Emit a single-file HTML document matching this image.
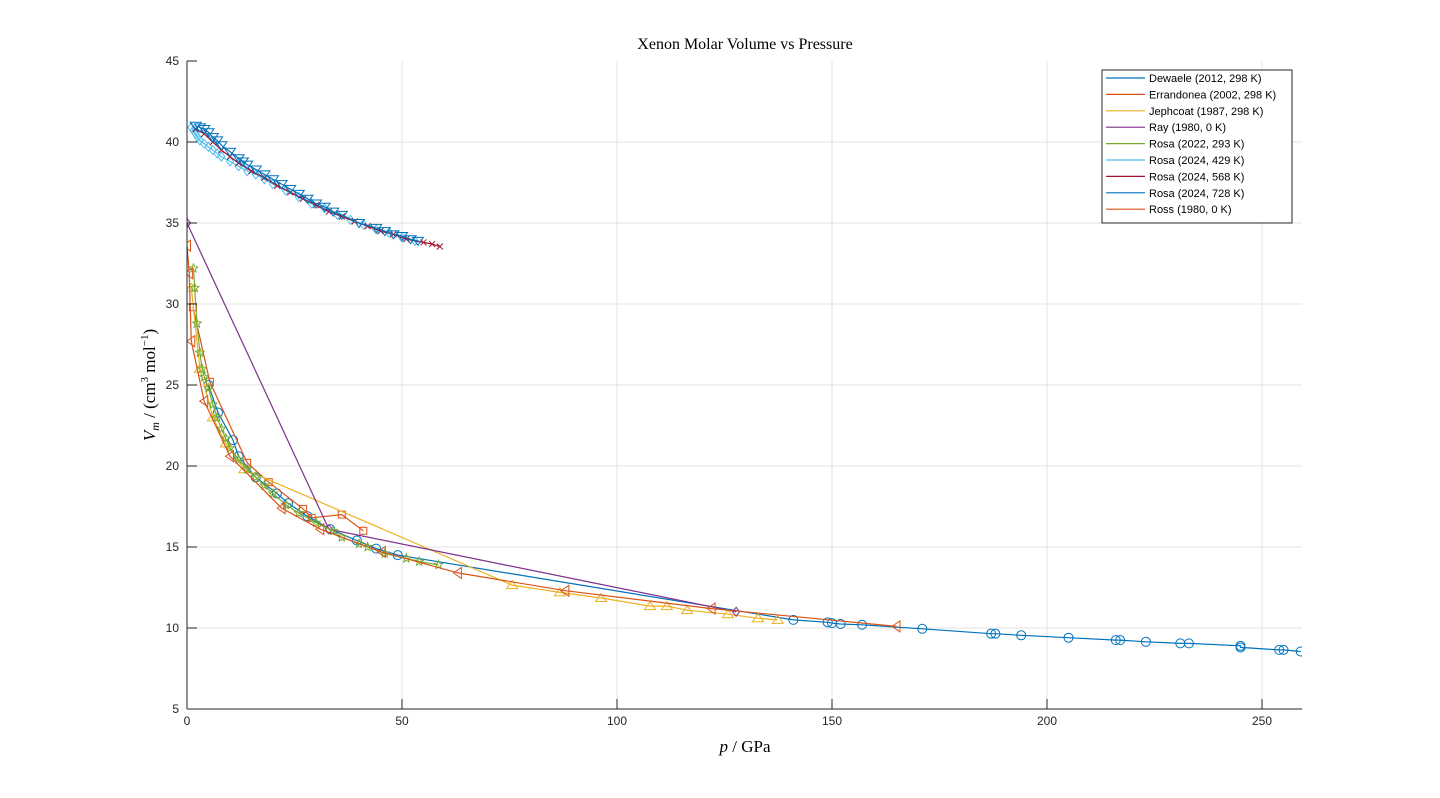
<!DOCTYPE html>
<html><head><meta charset="utf-8">
<style>
html,body{margin:0;padding:0;background:#fff;}
svg{display:block;}
.tick{font-family:"Liberation Sans",sans-serif;font-size:12px;fill:#262626;}
.ser{font-family:"Liberation Serif",serif;fill:#000;}
.leg{font-family:"Liberation Sans",sans-serif;font-size:11px;fill:#000;}
</style></head>
<body>
<svg id="chart" width="1440" height="798" xmlns="http://www.w3.org/2000/svg"></svg>
<script>
const xTicks=[0,50,100,150,200,250];
const yTicks=[5,10,15,20,25,30,35,40,45];
const seriesNames=["Dewaele (2012, 298 K)","Errandonea (2002, 298 K)","Jephcoat (1987, 298 K)","Ray (1980, 0 K)","Rosa (2022, 293 K)","Rosa (2024, 429 K)","Rosa (2024, 568 K)","Rosa (2024, 728 K)","Ross (1980, 0 K)"];
const dewP=[5,7.2,10.7,12,16,20.9,23.5,28,33.3,39.5,44,49,141,149,150,152,157,171,187,188,194,205,216,217,223,231,233,245,245,254,255,259];
const dewV=[25,23.3,21.6,20.6,19.3,18.3,17.7,16.9,16.1,15.4,14.9,14.5,10.5,10.35,10.3,10.25,10.2,9.95,9.65,9.65,9.55,9.4,9.25,9.25,9.15,9.05,9.05,8.9,8.8,8.65,8.65,8.55];
const errP=[1.4,5.3,14,19,27,29,36,41];
const errV=[29.8,25.2,20.2,19,17.35,16.8,17.0,16.0];
const jepP=[1,3,6,9,13.3,75.6,86.7,96.3,107.7,111.6,116.3,125.8,132.8,137.4];
const jepV=[31,26,23,21.4,19.8,12.65,12.2,11.85,11.35,11.35,11.1,10.85,10.6,10.5];
const rayP=[0,33,127.7];
const rayV=[35,16.1,11.0];
const r22P=[1.5,1.8,2.3,3,3.5,4,5,6,7,8,9,10,12,14,16,18,20,23,26,30,34,36,40,42,46,51,54,58.5];
const r22V=[32.2,31,28.8,27,26,25.5,24.8,23.8,23,22.3,21.7,21.1,20.4,19.8,19.3,18.8,18.3,17.6,17.1,16.5,16.0,15.6,15.2,15.0,14.6,14.3,14.1,13.9];
const r429P=[1,1.5,2,2.5,3,4,5,6,7,8,10,12,14,16,18,20,23,26,29,32,35,38,41,44,47,50,53];
const r429V=[40.9,40.7,40.5,40.3,40.1,39.9,39.7,39.5,39.3,39.1,38.8,38.5,38.2,38.0,37.7,37.4,37.0,36.6,36.2,35.9,35.5,35.2,34.9,34.6,34.4,34.1,33.9];
const r568P=[2,4,6,8,10,12,15,18,21,24,27,30,33,36,39,42,45,48,51,55,57,58.8];
const r568V=[40.8,40.5,40.0,39.5,39.1,38.7,38.2,37.8,37.3,36.9,36.5,36.1,35.7,35.4,35.1,34.8,34.5,34.3,34.0,33.8,33.7,33.55];
const r728P=[2,3,4,5,6,7,8,10,12,13,14,16,18,20,22,24,26,28,30,32,34,36,40,44,46,48,50,52,53.7];
const r728V=[41.0,40.9,40.8,40.6,40.3,40.1,39.8,39.4,39.0,38.8,38.6,38.3,38.0,37.7,37.4,37.1,36.8,36.5,36.2,36.0,35.7,35.5,35.0,34.7,34.5,34.3,34.2,34.0,33.9];
const rossP=[0,0.5,1,4,10,22,31,45.3,63,88,122,165];
const rossV=[33.6,31.9,27.7,24,20.6,17.4,16.1,14.7,13.4,12.3,11.2,10.1];

const L=187,R=1302,T=61,B=709,xMax=259.3,yMin=5,yMax=45;
const X=p=>L+p/xMax*(R-L);
const Y=v=>B-(v-yMin)/(yMax-yMin)*(B-T);
const svg=document.getElementById('chart');
const NS='http://www.w3.org/2000/svg';
function mk(tag,attrs,parent){const e=document.createElementNS(NS,tag);for(const k in attrs)e.setAttribute(k,attrs[k]);(parent||svg).appendChild(e);return e;}

mk('rect',{x:L,y:T,width:R-L,height:B-T,fill:'#fff'});
const grid=mk('g',{stroke:'#e3e3e3','stroke-width':1});


xTicks.forEach(t=>{if(t>0)mk('line',{x1:X(t),x2:X(t),y1:T,y2:B},grid);});
yTicks.forEach(t=>{if(t>yMin&&t<yMax)mk('line',{x1:L,x2:R,y1:Y(t),y2:Y(t)},grid);});

const colors=['#0072BD','#D95319','#EDB120','#7E2F8E','#77AC30','#4DBEEE','#A2142F','#0072BD','#D95319'];
const markers=['o','s','^','d','p','d','x','v','<'];
const data=[[dewP,dewV],[errP,errV],[jepP,jepV],[rayP,rayV],[r22P,r22V],[r429P,r429V],[r568P,r568V],[r728P,r728V],[rossP,rossV]];
const clip=mk('clipPath',{id:'cp'});mk('rect',{x:L,y:T,width:R-L,height:B-T},clip);
function marker(g,type,cx,cy,c){
  const s=4.5;
  if(type==='o')mk('circle',{cx,cy,r:s,fill:'none',stroke:c},g);
  else if(type==='s')mk('rect',{x:cx-3.5,y:cy-3.5,width:7,height:7,fill:'none',stroke:c},g);
  else if(type==='^')mk('polygon',{points:`${cx},${cy-s} ${cx-s-1},${cy+s-1} ${cx+s+1},${cy+s-1}`,fill:'none',stroke:c},g);
  else if(type==='v')mk('polygon',{points:`${cx},${cy+s} ${cx-s-1},${cy-s+1} ${cx+s+1},${cy-s+1}`,fill:'none',stroke:c},g);
  else if(type==='<')mk('polygon',{points:`${cx-s},${cy} ${cx+s-1},${cy-s-1} ${cx+s-1},${cy+s+1}`,fill:'none',stroke:c},g);
  else if(type==='d')mk('polygon',{points:`${cx},${cy-s} ${cx+s-1},${cy} ${cx},${cy+s} ${cx-s+1},${cy}`,fill:'none',stroke:c},g);
  else if(type==='x'){mk('path',{d:`M${cx-3},${cy-3}L${cx+3},${cy+3}M${cx-3},${cy+3}L${cx+3},${cy-3}`,stroke:c},g);}
  else if(type==='p'){let pts=[];for(let i=0;i<10;i++){const a=-Math.PI/2+i*Math.PI/5,r=i%2?2:4.5;pts.push((cx+r*Math.cos(a)).toFixed(1)+','+(cy+r*Math.sin(a)).toFixed(1));}mk('polygon',{points:pts.join(' '),fill:'none',stroke:c},g);}
}
data.forEach((d,i)=>{
  const g=mk('g',{'clip-path':'url(#cp)'});
  
  
  const pts=d[0].map((p,j)=>X(p).toFixed(1)+','+Y(d[1][j]).toFixed(1)).join(' ');
  mk('polyline',{points:pts,fill:'none',stroke:colors[i],'stroke-width':1.2},g);
  d[0].forEach((p,j)=>marker(g,markers[i],X(p),Y(d[1][j]),colors[i]));
});

const ax=mk('g',{stroke:'#262626','stroke-width':1,fill:'none'});


mk('line',{x1:L,x2:L,y1:T,y2:B},ax);
mk('line',{x1:L,x2:R,y1:B,y2:B},ax);
xTicks.forEach(t=>{mk('line',{x1:X(t),x2:X(t),y1:B,y2:B-10},ax);
  const tx=mk('text',{x:X(t),y:B+16,'text-anchor':'middle',class:'tick'});tx.textContent=t;
  
  });
yTicks.forEach(t=>{mk('line',{x1:L,x2:L+10,y1:Y(t),y2:Y(t)},ax);
  const tx=mk('text',{x:L-8,y:Y(t)+4,'text-anchor':'end',class:'tick'});tx.textContent=t;
  
  });

const lg=mk('g',{});


mk('rect',{x:1102,y:70,width:190,height:153,fill:'#fff',stroke:'#262626'},lg);
seriesNames.forEach((n,i)=>{
  const yy=78+i*16.4;
  const e=mk('g',{},lg);
  
  
  mk('line',{x1:1106,x2:1145,y1:yy,y2:yy,stroke:colors[i],'stroke-width':1.2},e);
  const t=mk('text',{x:1149,y:yy+4,class:'leg'},e);t.textContent=n;
});
</script>
<svg style="position:absolute;left:0;top:0" width="1440" height="798" xmlns="http://www.w3.org/2000/svg">
<text x="745" y="49" text-anchor="middle" class="ser" font-size="16">Xenon Molar Volume vs Pressure</text>
<text x="745" y="752" text-anchor="middle" class="ser" font-size="17"><tspan font-style="italic">p</tspan> / GPa</text>
<text transform="translate(155,385) rotate(-90)" text-anchor="middle" class="ser" font-size="17"><tspan font-style="italic">V</tspan><tspan font-style="italic" font-size="12" dy="4">m</tspan><tspan dy="-4"> / (cm</tspan><tspan font-size="11" dy="-7">3</tspan><tspan dy="7"> mol</tspan><tspan font-size="11" dy="-7">−1</tspan><tspan dy="7">)</tspan></text>
</svg>
</body></html>
